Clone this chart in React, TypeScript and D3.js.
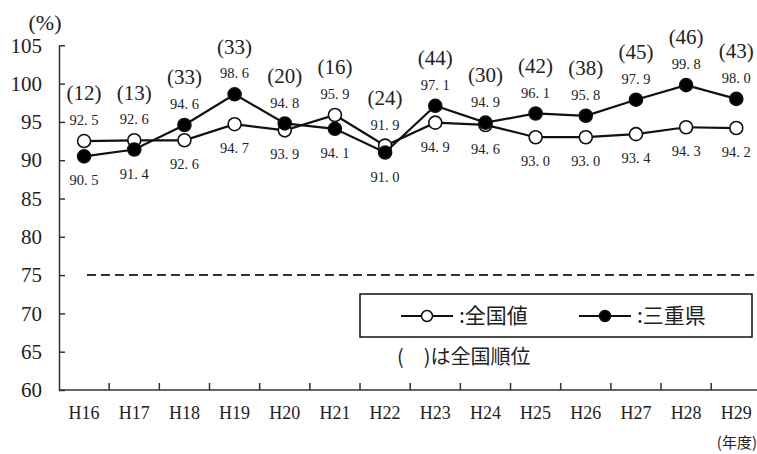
import React, { useEffect, useRef } from 'react';
import * as d3 from 'd3';

const years = ['H16', 'H17', 'H18', 'H19', 'H20', 'H21', 'H22', 'H23', 'H24', 'H25', 'H26', 'H27', 'H28', 'H29'];
const nationalValues = [92.5, 92.6, 92.6, 94.7, 93.9, 95.9, 91.9, 94.9, 94.6, 93.0, 93.0, 93.4, 94.3, 94.2];
const mieValues = [90.5, 91.4, 94.6, 98.6, 94.8, 94.1, 91.0, 97.1, 94.9, 96.1, 95.8, 97.9, 99.8, 98.0];
const ranks = [12, 13, 33, 33, 20, 16, 24, 44, 30, 42, 38, 45, 46, 43];
const yTicks = [60, 65, 70, 75, 80, 85, 90, 95, 100, 105];
const targetLine = 75;

const W = 757;
const H = 454;
const serif = '"Liberation Serif", "DejaVu Serif", serif';
const cjk = '"Noto Sans CJK JP", sans-serif';

export default function App() {
  const svgRef = useRef<SVGSVGElement>(null);

  useEffect(() => {
    document.body.style.margin = '0';
    if (!svgRef.current) return;
    const svg = d3.select(svgRef.current);
    svg.selectAll('*').remove();

    const left = 59;
    const bandW = 50.17;
    const x = d3.scaleBand<string>().domain(years).range([left, left + bandW * years.length]);
    const y = d3.scaleLinear().domain([60, 105]).range([390, 45.3]);
    const cx = (i: number) => (x(years[i]) as number) + x.bandwidth() / 2;

    // axes
    const yAxis = d3.axisLeft(y).tickValues(yTicks).tickSize(-6).tickSizeOuter(0).tickPadding(18);
    const gy = svg.append('g').attr('transform', `translate(${left},0)`).call(yAxis);
    gy.select('.domain').attr('stroke', '#333').attr('stroke-width', 1.5);
    gy.selectAll('.tick line').attr('stroke', '#333').attr('stroke-width', 1.5).attr('x2', 6);
    gy.selectAll('.tick text')
      .attr('font-family', serif)
      .attr('font-size', 21)
      .attr('fill', '#222')
      .attr('x', -17);

    const gx = svg.append('g').attr('transform', `translate(0,${y(60)})`);
    gx.append('line')
      .attr('x1', left).attr('x2', W)
      .attr('stroke', '#333').attr('stroke-width', 1.5);
    years.slice(1).forEach((yr) => {
      const tx = x(yr) as number;
      gx.append('line').attr('x1', tx).attr('x2', tx).attr('y1', 0).attr('y2', -7)
        .attr('stroke', '#333').attr('stroke-width', 1.5);
    });
    years.forEach((yr, i) => {
      gx.append('text')
        .attr('x', cx(i)).attr('y', 23)
        .attr('dy', '0.35em')
        .attr('text-anchor', 'middle')
        .attr('font-family', serif).attr('font-size', 18).attr('fill', '#222')
        .text(yr);
    });

    svg.append('text').attr('x', 45).attr('y', 22).attr('dy', '0.35em')
      .attr('text-anchor', 'middle').attr('font-family', serif).attr('font-size', 22).attr('fill', '#222')
      .text('(%)');
    svg.append('text').attr('x', 757).attr('y', 443).attr('dy', '0.35em')
      .attr('text-anchor', 'end').attr('font-family', cjk).attr('font-size', 15).attr('fill', '#222')
      .text('(年度)');

    // 75% reference
    svg.append('line')
      .attr('x1', 87).attr('x2', W)
      .attr('y1', y(targetLine)).attr('y2', y(targetLine))
      .attr('stroke', '#333').attr('stroke-width', 2).attr('stroke-dasharray', '9,5');

    const line = d3.line<number>().x((_, i) => cx(i)).y((d) => y(d));

    const drawSeries = (vals: number[], fill: string) => {
      svg.append('path').datum(vals).attr('d', line)
        .attr('fill', 'none').attr('stroke', '#111').attr('stroke-width', 2.2);
      svg.append('g').selectAll('circle').data(vals).join('circle')
        .attr('cx', (_, i) => cx(i)).attr('cy', (d) => y(d)).attr('r', 6.5)
        .attr('fill', fill).attr('stroke', '#111').attr('stroke-width', 1.6);
    };
    drawSeries(nationalValues, '#fff');
    drawSeries(mieValues, '#000');

    // value & rank labels
    const label = (tx: number, ty: number, t: string, size: number) =>
      svg.append('text').attr('x', tx).attr('y', ty).attr('dy', '0.35em')
        .attr('text-anchor', 'middle').attr('font-family', serif).attr('font-size', size)
        .attr('fill', '#222').text(t);

    years.forEach((_, i) => {
      const n = nationalValues[i];
      const m = mieValues[i];
      const hi = Math.max(n, m);
      const lo = Math.min(n, m);
      const upY = y(hi) - 21;
      label(cx(i), upY, hi.toFixed(1).replace('.', '. '), 14.5);
      label(cx(i), y(lo) + 24, lo.toFixed(1).replace('.', '. '), 14.5);
      label(cx(i), upY - 27, `(${ranks[i]})`, 21);
    });

    // legend
    const lg = svg.append('g');
    lg.append('rect').attr('x', 360).attr('y', 294).attr('width', 392).attr('height', 43)
      .attr('fill', '#fff').attr('stroke', '#111').attr('stroke-width', 1.5);
    const items = [
      { x0: 401, name: ':全国値', fill: '#fff' },
      { x0: 579, name: ':三重県', fill: '#000' },
    ];
    items.forEach((it) => {
      lg.append('line').attr('x1', it.x0).attr('x2', it.x0 + 52).attr('y1', 316).attr('y2', 316)
        .attr('stroke', '#111').attr('stroke-width', 2);
      lg.append('circle').attr('cx', it.x0 + 26).attr('cy', 316).attr('r', 5.5)
        .attr('fill', it.fill).attr('stroke', '#111').attr('stroke-width', 1.5);
      lg.append('text').attr('x', it.x0 + 58).attr('y', 316).attr('dy', '0.35em')
        .attr('font-family', cjk).attr('font-size', 21).attr('fill', '#222').text(it.name);
    });
    svg.append('text').attr('x', 397).attr('y', 357).attr('dy', '0.35em')
      .attr('font-family', cjk).attr('font-size', 20).attr('fill', '#222').text('(\u2003)は全国順位');
  }, []);

  return <svg ref={svgRef} width={W} height={H} style={{ display: 'block', background: '#fff' }} />;
}
